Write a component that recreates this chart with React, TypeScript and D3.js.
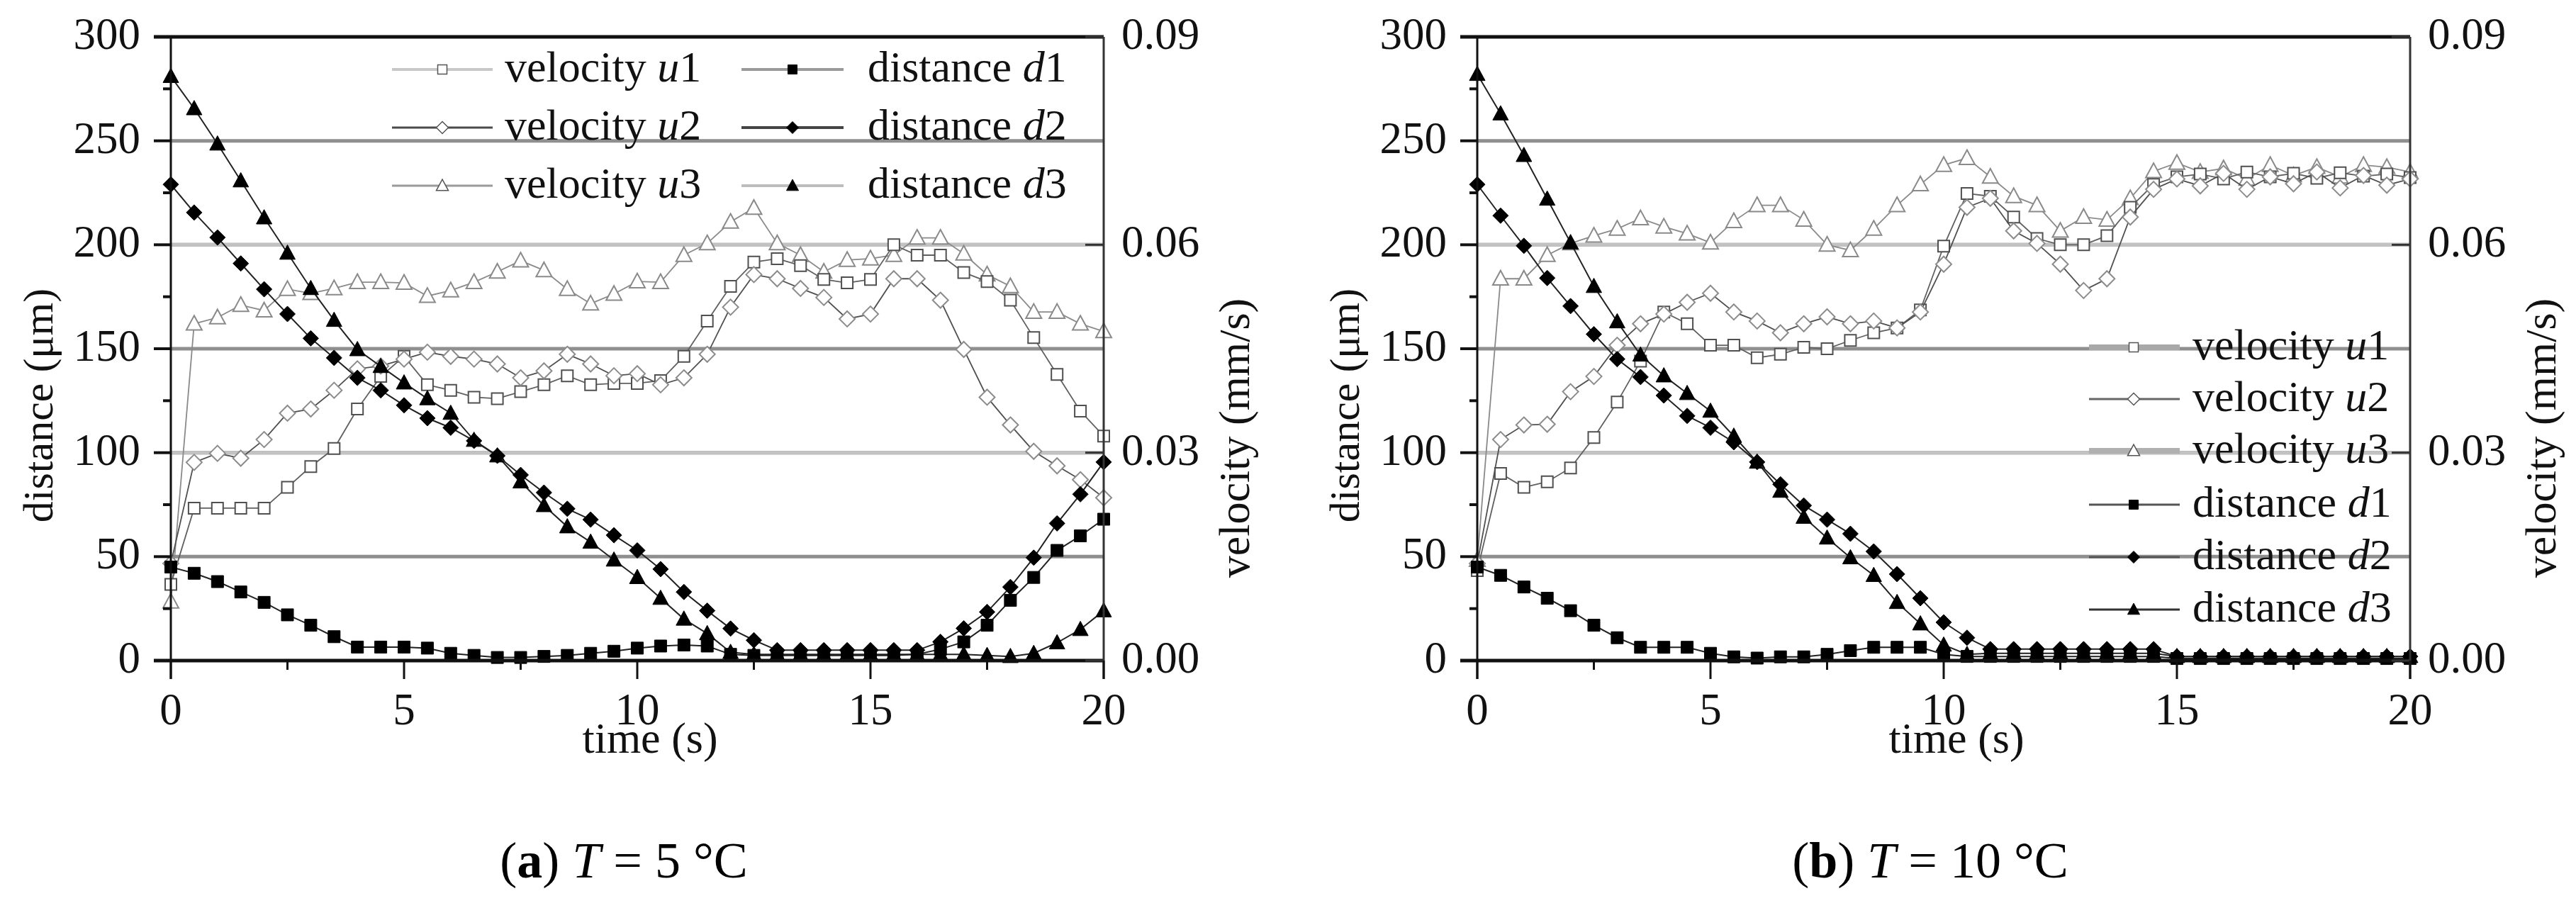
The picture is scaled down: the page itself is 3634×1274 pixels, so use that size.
import React from 'react';
import * as d3 from 'd3';

// ---------- data ----------
const timeSec = [0, 0.5, 1, 1.5, 2, 2.5, 3, 3.5, 4, 4.5, 5, 5.5, 6, 6.5, 7, 7.5, 8, 8.5, 9, 9.5, 10,
  10.5, 11, 11.5, 12, 12.5, 13, 13.5, 14, 14.5, 15, 15.5, 16, 16.5, 17, 17.5, 18, 18.5, 19, 19.5, 20];
const distTicks = [0, 50, 100, 150, 200, 250, 300];
const distMinor = [25, 75, 125, 175, 225, 275];
const velTicks = [0, 0.03, 0.06, 0.09];
const timeTicks = [0, 5, 10, 15, 20];
const timeMinor = [2.5, 7.5, 12.5, 17.5];

// (a) T = 5 °C
const aU1 = [0.011, 0.022, 0.022, 0.022, 0.022, 0.025, 0.028, 0.0306, 0.0363, 0.041, 0.0439, 0.0398, 0.039, 0.038, 0.0378, 0.0388, 0.0398, 0.0411, 0.0398, 0.04, 0.04,
  0.0404, 0.0439, 0.049, 0.054, 0.0575, 0.058, 0.057, 0.055, 0.0545, 0.055, 0.06, 0.0585, 0.0585, 0.056, 0.0547, 0.052, 0.0466, 0.0413, 0.036, 0.0324];
const aU2 = [0.014, 0.0286, 0.0299, 0.0292, 0.0319, 0.0357, 0.0363, 0.039, 0.0421, 0.0425, 0.0435, 0.0445, 0.0439, 0.0435, 0.0428, 0.0408, 0.0418, 0.0442, 0.0428, 0.0411, 0.0414,
  0.0398, 0.0408, 0.0442, 0.051, 0.0557, 0.0551, 0.0537, 0.0524, 0.0493, 0.05, 0.0551, 0.0551, 0.052, 0.0449, 0.038, 0.034, 0.0302, 0.0281, 0.0261, 0.0235];
const aU3 = [0.0085, 0.0486, 0.0495, 0.0513, 0.0505, 0.0536, 0.053, 0.0537, 0.0546, 0.0546, 0.0545, 0.0526, 0.0534, 0.0546, 0.0561, 0.0577, 0.0563, 0.0536, 0.0515, 0.0529, 0.0547,
  0.0546, 0.0585, 0.0602, 0.0633, 0.0653, 0.0602, 0.0585, 0.0561, 0.0578, 0.058, 0.0585, 0.061, 0.061, 0.0587, 0.0557, 0.054, 0.0503, 0.0503, 0.0486, 0.0475];
const aD1 = [45, 42, 38, 33, 28, 22, 17, 11.5, 6.5, 6.5, 6.5, 6, 3.5, 2.5, 1.5, 1.5, 2, 2.5, 3.5, 4.5, 6,
  7, 7.5, 7, 3, 2.5, 2.5, 2.5, 2.5, 2.5, 2.5, 2.5, 3, 5.5, 9, 17, 29, 40, 53, 60, 68];
const aD2 = [229, 215.5, 203.5, 191, 178.6, 166.7, 155, 145.6, 136, 130, 122.8, 116.6, 112, 105.7, 98.5, 89.3, 80.8, 73, 67.8, 60.3, 53,
  44, 33, 24, 15.4, 9.8, 5, 5, 5, 5, 5, 5, 5, 9, 15.5, 23.4, 35.4, 49.5, 66, 80, 95.5];
const aD3 = [281, 265.5, 248.5, 230.8, 213, 196, 179, 163.7, 149.6, 141.5, 133.6, 126, 119, 106, 98.5, 86, 74.6, 64.4, 57, 48.4, 40,
  30, 20, 13, 4, 3, 3, 3, 3, 3, 3, 3, 3, 3, 3, 2.5, 2, 3.5, 8.6, 15, 24];

// (b) T = 10 °C
const bU1 = [0.013, 0.027, 0.025, 0.0258, 0.0278, 0.0322, 0.0373, 0.0432, 0.0503, 0.0486, 0.0455, 0.0455, 0.0437, 0.0442, 0.0452, 0.045, 0.0462, 0.0473, 0.048, 0.0506, 0.0598,
  0.0674, 0.067, 0.064, 0.0609, 0.06, 0.06, 0.0613, 0.0654, 0.0687, 0.0698, 0.0702, 0.0695, 0.0705, 0.0698, 0.0703, 0.0696, 0.0704, 0.0699, 0.0702, 0.0697];
const bU2 = [0.014, 0.0319, 0.034, 0.0341, 0.0388, 0.041, 0.0455, 0.0486, 0.05, 0.0517, 0.053, 0.0503, 0.049, 0.0473, 0.0486, 0.0496, 0.0486, 0.049, 0.048, 0.0503, 0.0572,
  0.0654, 0.0667, 0.062, 0.0602, 0.0572, 0.0534, 0.0551, 0.064, 0.068, 0.0695, 0.0685, 0.0703, 0.068, 0.0698, 0.0688, 0.0705, 0.0682, 0.07, 0.0686, 0.0695];
const bU3 = [0.0145, 0.0551, 0.0551, 0.0585, 0.0602, 0.0613, 0.0623, 0.0638, 0.0626, 0.0616, 0.0603, 0.0634, 0.0657, 0.0657, 0.0636, 0.06, 0.0592, 0.0623, 0.0657, 0.0687, 0.0715,
  0.0725, 0.0698, 0.067, 0.0657, 0.062, 0.064, 0.0636, 0.0667, 0.0706, 0.0718, 0.0705, 0.071, 0.0695, 0.0715, 0.07, 0.0712, 0.0698, 0.0715, 0.0712, 0.0705];
const bD1 = [45, 41, 35.4, 30, 24, 17, 11, 6.4, 6.4, 6.4, 3.5, 1.8, 1.2, 1.8, 1.8, 3, 4.8, 6.4, 6.4, 6.4, 3,
  2, 2, 2, 2, 2, 2, 2, 2, 2, 1, 1, 1, 1, 1, 1, 1, 1, 1, 1, 1];
const bD2 = [229, 214, 199.5, 184, 170.5, 157, 145, 136.4, 127.5, 117.7, 112, 105, 95.5, 84.8, 74.6, 67.8, 61, 52.5, 41.6, 30, 18.4,
  11, 5.5, 5.5, 5.5, 5.5, 5.5, 5.5, 5.5, 5.5, 2, 2, 2, 2, 2, 2, 2, 2, 2, 2, 2];
const bD3 = [282, 263, 243, 222, 201, 180, 163, 147, 137, 128.5, 120, 108, 95.5, 81.5, 69, 59, 49.5, 41, 28, 17.7, 7.5,
  3, 3.5, 3.5, 3.5, 3.5, 3.5, 3.5, 3.5, 3.5, 2, 2, 2, 2, 2, 2, 2, 2, 2, 2, 2];

const seriesNames = ['velocity', 'velocity', 'velocity', 'distance', 'distance', 'distance'];
const seriesSymbols = ['u', 'u', 'u', 'd', 'd', 'd'];
const seriesIndex = ['1', '2', '3', '1', '2', '3'];
const panelLetters = ['a', 'b'];
const panelTemps = ['5', '10'];

// ---------- drawing ----------
const W = 3634;
const H = 1274;
const Y_TOP = 52;
const Y_BOT = 932;
const FONT = '"Liberation Serif", "Times New Roman", serif';

type Shape = 'square' | 'diamond' | 'triangle';

function markerPath(shape: Shape, r: number): string {
  if (shape === 'square') return `M${-r},${-r}h${2 * r}v${2 * r}h${-2 * r}Z`;
  if (shape === 'diamond') return `M0,${-r}L${r},0L0,${r}L${-r},0Z`;
  return `M0,${-r * 1.05}L${r},${r * 0.8}L${-r},${r * 0.8}Z`;
}

const shapes: Shape[] = ['square', 'diamond', 'triangle', 'square', 'diamond', 'triangle'];
const plotR = [8, 11, 11, 8.5, 11, 11];
const plotLine = ['#606060', '#505050', '#8a8a8a', '#222', '#222', '#222'];
const plotMarkStroke = ['#505050', '#8c8c8c', '#8a8a8a', '#000', '#000', '#000'];
const plotFill = ['#fff', '#fff', '#fff', '#000', '#000', '#000'];

interface LegendStyle { color: string; width: number }

const legendA: LegendStyle[] = [
  { color: '#c8c8c8', width: 4 }, { color: '#4a4a4a', width: 3 }, { color: '#9a9a9a', width: 3 },
  { color: '#9a9a9a', width: 4 }, { color: '#444', width: 4 }, { color: '#bdbdbd', width: 4 },
];
const legendB: LegendStyle[] = [
  { color: '#a8a8a8', width: 8 }, { color: '#666', width: 3 }, { color: '#b0b0b0', width: 8 },
  { color: '#555', width: 3 }, { color: '#555', width: 3 }, { color: '#333', width: 3 },
];

interface PanelProps {
  x0: number;
  x1: number;
  series: number[][]; // u1,u2,u3,d1,d2,d3
  legendMode: 'grid' | 'column';
  panel: number;
}

function Panel({ x0, x1, series, legendMode, panel }: PanelProps) {
  const x = d3.scaleLinear().domain([0, 20]).range([x0, x1]);
  const yL = d3.scaleLinear().domain([0, 300]).range([Y_BOT, Y_TOP]);
  const yR = d3.scaleLinear().domain([0, 0.09]).range([Y_BOT, Y_TOP]);
  const cx = (x0 + x1) / 2;

  const lines = series.map((vals, i) => {
    const ys = i < 3 ? yR : yL;
    const gen = d3.line<number>().x((_, k) => x(timeSec[k])).y((v) => ys(v));
    return gen(vals) || '';
  });

  const order = [2, 0, 1, 5, 3, 4];

  const legendItems = series.map((_, i) => {
    let lx0: number, lx1: number, mx: number, tx: number, cy: number;
    if (legendMode === 'grid') {
      const col = i < 3 ? 0 : 1;
      const row = i % 3;
      lx0 = x0 + (col === 0 ? 312 : 805);
      lx1 = x0 + (col === 0 ? 454 : 949);
      mx = (lx0 + lx1) / 2;
      tx = x0 + (col === 0 ? 471 : 983);
      cy = 98 + row * 82;
    } else {
      lx0 = x0 + 863;
      lx1 = x0 + 991;
      mx = x0 + 926;
      tx = x0 + 1009;
      cy = [490, 563, 636, 712, 786, 860][i];
    }
    const st = legendMode === 'grid' ? legendA[i] : legendB[i];
    return (
      <g key={`lg${i}`}>
        <line x1={lx0} x2={lx1} y1={cy} y2={cy} stroke={st.color} strokeWidth={st.width} />
        <path d={markerPath(shapes[i], i === 0 || i === 3 ? 6.5 : 8.5)} transform={`translate(${mx},${cy})`}
          fill={plotFill[i]} stroke={i < 3 ? '#555' : '#000'} strokeWidth={i < 3 ? 1.5 : 1} />
        <text x={tx} y={cy + 17} fontSize={62} fontFamily={FONT} fill="#111">
          {seriesNames[i]} <tspan fontStyle="italic">{seriesSymbols[i]}</tspan>{seriesIndex[i]}
        </text>
      </g>
    );
  });

  return (
    <g>
      {/* grid */}
      {distTicks.filter((t) => t > 0 && t < 300).map((t) => (
        <line key={`gl${t}`} x1={x0} x2={x1} y1={yL(t)} y2={yL(t)} stroke="#8f8f8f" strokeWidth={5} />
      ))}
      {velTicks.filter((t) => t > 0 && t < 0.09).map((t) => (
        <line key={`gr${t}`} x1={x0} x2={x1} y1={yR(t)} y2={yR(t)} stroke="#c2c2c2" strokeWidth={5} />
      ))}

      {/* series */}
      {order.map((i) => (
        <g key={`s${i}`}>
          <path d={lines[i]} fill="none" stroke={plotLine[i]} strokeWidth={i < 3 ? 1.8 : 2} />
          {series[i].map((v, k) => (
            <path key={k} d={markerPath(shapes[i], plotR[i])}
              transform={`translate(${x(timeSec[k])},${(i < 3 ? yR : yL)(v)})`}
              fill={plotFill[i]} stroke={plotMarkStroke[i]} strokeWidth={i < 3 ? 2 : 1} />
          ))}
        </g>
      ))}

      {/* axes and frame */}
      <line x1={x0 - 24} x2={x1} y1={Y_TOP} y2={Y_TOP} stroke="#111" strokeWidth={5} />
      <line x1={x0 - 24} x2={x1} y1={Y_BOT} y2={Y_BOT} stroke="#111" strokeWidth={5} />
      <line x1={x0} x2={x0} y1={Y_TOP} y2={Y_BOT + 26} stroke="#111" strokeWidth={3} />
      <line x1={x1} x2={x1} y1={Y_TOP} y2={Y_BOT + 26} stroke="#333" strokeWidth={3} />

      {distTicks.map((t) => (
        <g key={`lt${t}`}>
          <line x1={x0 - 24} x2={x0} y1={yL(t)} y2={yL(t)} stroke="#111" strokeWidth={4} />
          <text x={x0 - 43} y={yL(t) + 17} textAnchor="end" fontSize={63} fontFamily={FONT} fill="#111">{t}</text>
        </g>
      ))}
      {distMinor.map((t) => (
        <line key={`lm${t}`} x1={x0 - 11} x2={x0} y1={yL(t)} y2={yL(t)} stroke="#111" strokeWidth={4} />
      ))}
      {velTicks.map((t) => (
        <g key={`rt${t}`}>
          <line x1={x1 - 26} x2={x1} y1={yR(t)} y2={yR(t)} stroke="#333" strokeWidth={3} />
          <text x={x1 + 25} y={yR(t) + 17} textAnchor="start" fontSize={63} fontFamily={FONT} fill="#111">{d3.format('.2f')(t)}</text>
        </g>
      ))}
      {timeTicks.map((t) => (
        <g key={`bt${t}`}>
          <line x1={x(t)} x2={x(t)} y1={Y_BOT} y2={Y_BOT + 26} stroke="#111" strokeWidth={3} />
          <text x={x(t)} y={1022} textAnchor="middle" fontSize={63} fontFamily={FONT} fill="#111">{t}</text>
        </g>
      ))}
      {timeMinor.map((t) => (
        <line key={`bm${t}`} x1={x(t)} x2={x(t)} y1={Y_BOT} y2={Y_BOT + 13} stroke="#111" strokeWidth={3} />
      ))}

      {/* axis titles */}
      <text x={cx + 18} y={1062} textAnchor="middle" fontSize={62} fontFamily={FONT} fill="#111">time (s)</text>
      <text transform={`translate(${x0 - 167},572) rotate(-90)`} textAnchor="middle" fontSize={60} fontFamily={FONT} fill="#111">distance (μm)</text>
      <text transform={`translate(${x1 + 205},618) rotate(-90)`} textAnchor="middle" fontSize={62} fontFamily={FONT} fill="#111">velocity (mm/s)</text>

      {/* legend */}
      {legendItems}

      {/* caption */}
      <text x={cx - 19} y={1238} textAnchor="middle" fontSize={72} fontFamily={FONT} fill="#000">
        (<tspan fontWeight="bold">{panelLetters[panel]}</tspan>) <tspan fontStyle="italic">T</tspan> = {panelTemps[panel]} °C
      </text>
    </g>
  );
}

export default function App() {
  return (
    <svg width={W} height={H} viewBox={`0 0 ${W} ${H}`}
      style={{ position: 'absolute', left: 0, top: 0, background: '#fff', display: 'block' }}>
      <rect x={0} y={0} width={W} height={H} fill="#fff" />
      <Panel x0={241} x1={1557} series={[aU1, aU2, aU3, aD1, aD2, aD3]} legendMode="grid" panel={0} />
      <Panel x0={2084} x1={3400} series={[bU1, bU2, bU3, bD1, bD2, bD3]} legendMode="column" panel={1} />
    </svg>
  );
}
